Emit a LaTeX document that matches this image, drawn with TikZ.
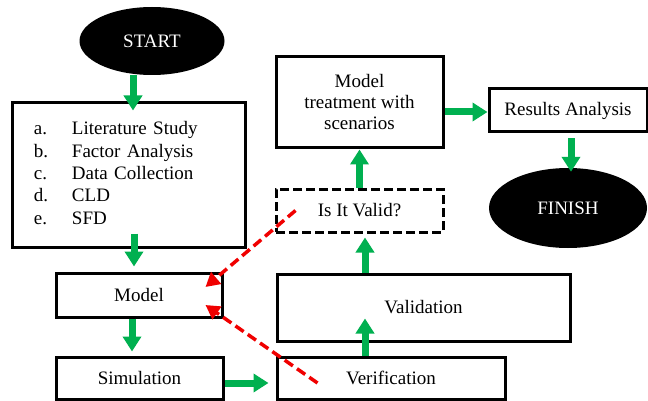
\documentclass[tikz,border=0pt]{standalone}
\usepackage{fontspec}
\setmainfont{Liberation Serif}
\usepackage{tikz}
\usetikzlibrary{shapes.geometric,arrows.meta}
\definecolor{flowgreen}{RGB}{0,176,80}
\definecolor{backred}{RGB}{240,0,0}

\begin{document}
\begin{tikzpicture}[x=1pt,y=-1pt,
  font=\fontsize{19}{22.5}\selectfont,
  stepbox/.style={draw,line width=3pt,rectangle,inner sep=0pt},
  endpoint/.style={ellipse,fill=black,text=white,inner sep=0pt},
  garrow/.style={draw=flowgreen,line width=7pt,-{Triangle[width=18pt,length=15pt]}},
  rarrow/.style={draw=backred,line width=3.5pt,dash pattern=on 10pt off 5pt,-{Triangle[width=15pt,length=14pt]}}]
\useasboundingbox (0,0) rectangle (648,401);
\node[endpoint,minimum width=145pt,minimum height=68pt] (start) at (152,41) {START};
\node[stepbox,minimum width=233pt,minimum height=144pt,text width=189pt,align=left] (steps) at (128.5,175)
  {\raisebox{3pt}{\begin{tabular}{@{}p{38pt}@{}l@{}}
   a. & Literature Study\\
   b. & Factor Analysis\\
   c. & Data Collection\\
   d. & CLD\\
   e. & SFD
   \end{tabular}}};
\node[stepbox,minimum width=166pt,minimum height=44pt] (model) at (139,295) {Model};
\node[stepbox,minimum width=167pt,minimum height=42pt] (sim) at (139.5,378) {Simulation};
\node[stepbox,minimum width=228pt,minimum height=42pt] (verif) at (391,378) {Verification};
\node[stepbox,minimum width=293pt,minimum height=67pt] (valid) at (423.5,307.5) {Validation};
\node[stepbox,dash pattern=on 9pt off 4pt,minimum width=167pt,minimum height=43pt] (isvalid) at (359.5,210.5) {Is It Valid?};
\node[stepbox,minimum width=167pt,minimum height=91pt,align=center,font=\fontsize{19}{21}\selectfont] (treat) at (359.5,102.5)
  {Model\\treatment with\\scenarios};
\node[stepbox,minimum width=158pt,minimum height=43pt] (results) at (568,110.5) {Results Analysis};
\node[endpoint,minimum width=158pt,minimum height=80pt] (finish) at (568,208) {FINISH};

\draw[garrow] ([xshift=-19pt]start.south) -- ([xshift=4.5pt,yshift=-9pt]steps.north);
\draw[garrow] ([xshift=5.5pt,yshift=15pt]steps.south) -- ([xshift=-5pt,yshift=5pt]model.north);
\draw[garrow] ([xshift=-7pt]model.south) -- ([xshift=-7.5pt,yshift=4pt]sim.north);
\draw[garrow] ([yshift=-5pt]sim.east) -- ([xshift=-7pt,yshift=-5pt]verif.west);
\draw[garrow] ([xshift=-26pt]verif.north) -- ([xshift=-58.5pt,yshift=24pt]valid.south);
\draw[garrow] ([xshift=-58.5pt]valid.north) -- ([xshift=5.5pt,yshift=-4pt]isvalid.south);
\draw[garrow] (isvalid.north) -- (treat.south);
\draw[garrow] ([yshift=-9.5pt]treat.east) -- ([yshift=-1.5pt]results.west);
\draw[garrow] ([xshift=3pt,yshift=-5pt]results.south) -- ([xshift=3pt,yshift=-4pt]finish.north);

\draw[rarrow] ([xshift=21pt]isvalid.west) -- ([xshift=-18pt,yshift=8pt]model.east);
\draw[rarrow] ([xshift=42pt,yshift=-5pt]verif.west) -- ([xshift=-18pt,yshift=-10pt]model.east);
\end{tikzpicture}
\end{document}
